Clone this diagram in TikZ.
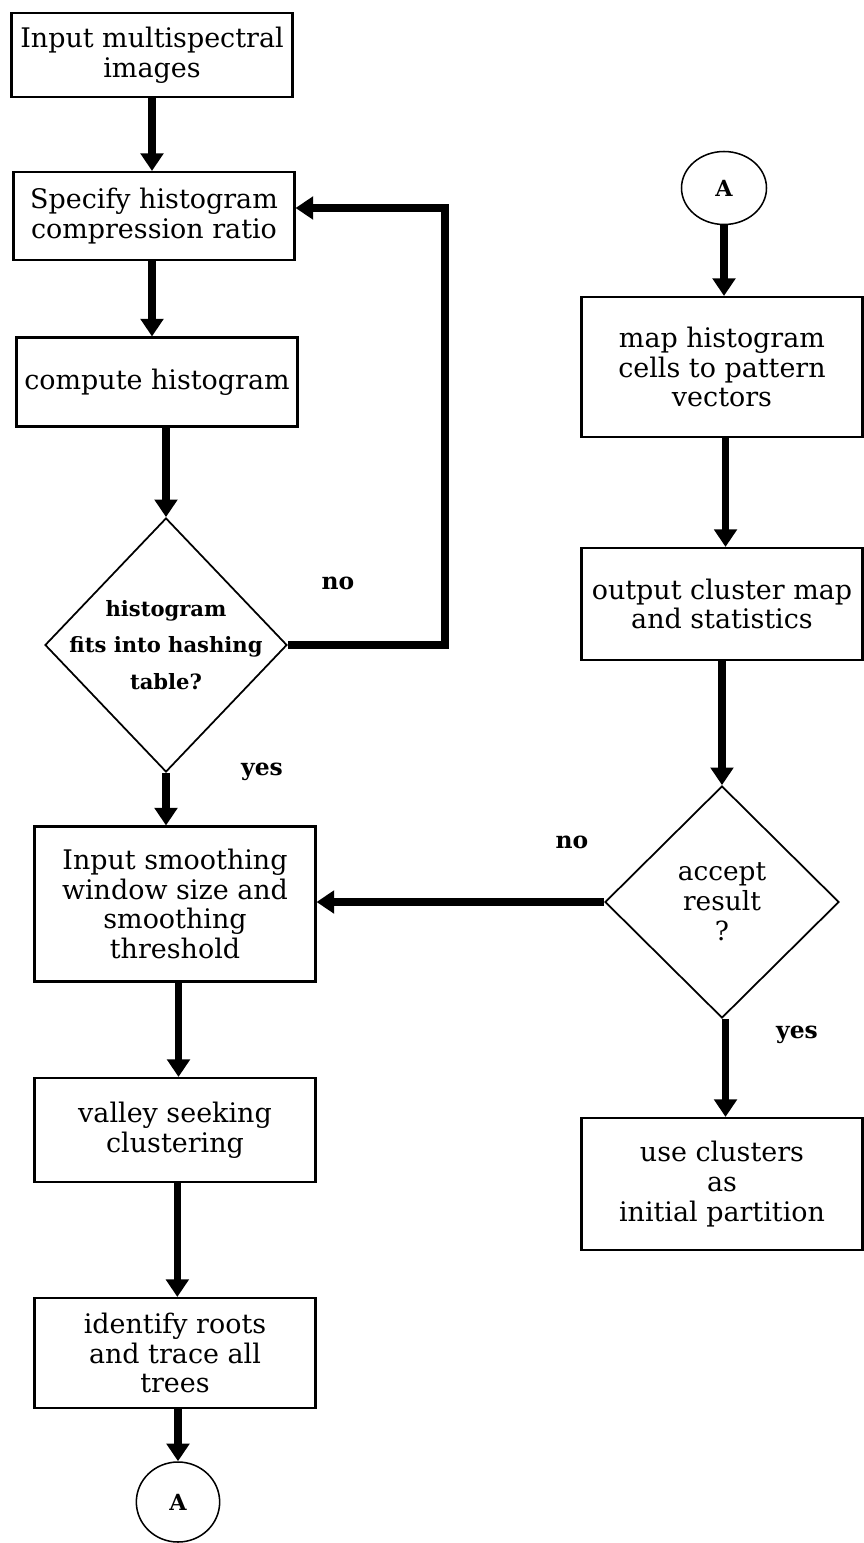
\documentclass[tikz,border=0pt]{standalone}
\usepackage{fontspec}
\setmainfont{DejaVu Serif}
\usepackage{tikz}
\usetikzlibrary{arrows.meta,positioning,calc,shapes.geometric}

\begin{document}
\begin{tikzpicture}[x=0.03cm, y=-0.03cm,
  stepbox/.style={draw, line width=1.8pt, align=center, minimum width=8.43cm, inner sep=2pt, font=\fontsize{23}{25.5}\selectfont},
  decision/.style={draw, diamond, line width=1.5pt, inner sep=0pt},
  dtext/.style={align=center, font=\bfseries\fontsize{18}{31}\selectfont},
  qtext/.style={align=center, font=\fontsize{22.5}{25.5}\selectfont},
  connector/.style={draw, ellipse, line width=1.3pt, inner sep=0pt, font=\bfseries\fontsize{19}{21}\selectfont},
  answer/.style={font=\bfseries\fontsize{20}{22}\selectfont},
  flow/.style={line width=6pt, -{Triangle[width=19pt,length=15pt]}}]
\useasboundingbox (0,0) rectangle (863,1543);

% left column: histogram and valley seeking
\node[stepbox, minimum height=2.52cm] (input) at (152,55) {Input multispectral\\images};
\node[stepbox, minimum height=2.64cm] (ratio) at (154,216) {Specify histogram\\compression ratio};
\node[stepbox, minimum height=2.67cm] (hist) at (157,382) {compute histogram};
\node[decision, minimum width=7.26cm, minimum height=7.62cm,
      label={[dtext]center:{histogram\\fits into hashing\\table?}}] (fits) at (166,645) {};
\node[answer] (no1) at (338,583) {no};
\node[answer] (yes1) at (262,772) {yes};
\node[stepbox, minimum height=4.65cm] (smooth) at (175,904) {Input smoothing\\window size and\\smoothing\\threshold};
\node[stepbox, minimum height=3.12cm] (valley) at (175,1130) {valley seeking\\clustering};
\node[stepbox, minimum height=3.3cm] (roots) at (175,1353) {identify roots\\and trace all\\trees};
\node[connector, minimum width=2.5cm, minimum height=2.4cm] (endA) at (178,1502) {A};

% right column: from connector A to the partition
\node[connector, minimum width=2.55cm, minimum height=2.19cm] (startA) at (724,188) {A};
\node[stepbox, minimum height=4.2cm] (cells) at (722,367) {map histogram\\cells to pattern\\vectors};
\node[stepbox, minimum height=3.36cm] (output) at (722,604) {output cluster map\\and statistics};
\node[decision, minimum width=7.02cm, minimum height=6.96cm,
      label={[qtext]center:{accept\\result\\?}}] (accept) at (722,902) {};
\node[answer] (no2) at (572,842) {no};
\node[answer] (yes2) at (797,1035) {yes};
\node[stepbox, minimum height=3.96cm] (init) at (722,1184) {use clusters\\as\\initial partition};

\coordinate (bend) at (445,208);

% connectors
\draw[flow] (input.south) -- (input.south |- ratio.north);
\draw[flow] (input.south |- ratio.south) -- (input.south |- hist.north);
\draw[flow] (fits.north |- hist.south) -- (fits.north);
\draw[flow] (fits.east) -| (bend) -- (bend -| ratio.east);
\draw[flow] (fits.south) -- (fits.south |- smooth.north);
\draw[flow] ([xshift=3pt]smooth.south) -- ([xshift=3pt]valley.north);
\draw[flow] ([xshift=2pt]valley.south) -- ([xshift=2pt]roots.north);
\draw[flow] (endA.north |- roots.south) -- (endA.north);
\draw[flow] (startA.south) -- (startA.south |- cells.north);
\draw[flow] ([xshift=3pt]cells.south) -- ([xshift=3pt]output.north);
\draw[flow] (accept.north |- output.south) -- (accept.north);
\draw[flow] (accept.west) -- (accept.west -| smooth.east);
\draw[flow] ([xshift=3pt]accept.south) -- ([xshift=3pt]init.north);
\end{tikzpicture}
\end{document}
